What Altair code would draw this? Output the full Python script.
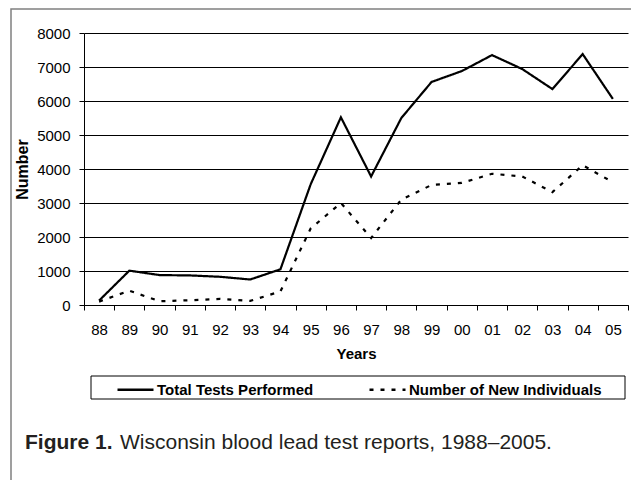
import altair as alt
import pandas as pd

years = ["88", "89", "90", "91", "92", "93", "94", "95", "96", "97",
         "98", "99", "00", "01", "02", "03", "04", "05"]
total_tests = [130, 1010, 880, 870, 830, 750, 1050, 3550, 5520, 3780,
               5500, 6560, 6880, 7350, 6940, 6350, 7380, 6060]
new_individuals = [100, 420, 110, 140, 180, 120, 400, 2250, 3000, 1970,
                   3100, 3530, 3590, 3860, 3780, 3320, 4110, 3610]
series_names = ["Total Tests Performed", "Number of New Individuals"]
y_ticks = [0, 1000, 2000, 3000, 4000, 5000, 6000, 7000, 8000]

rows = []
for i, yr in enumerate(years):
    rows.append({"year": yr, "series": series_names[0], "value": total_tests[i], "order": i})
    rows.append({"year": yr, "series": series_names[1], "value": new_individuals[i], "order": i})
df = pd.DataFrame(rows)

FONT = "Liberation Sans"

lines = alt.Chart(df).mark_line(color="black", strokeWidth=2.2).encode(
    x=alt.X("year:O", sort=years,
            scale=alt.Scale(type="band", paddingInner=0, paddingOuter=0),
            axis=alt.Axis(title="Years", labelAngle=0, tickBand="extent", grid=False,
                          domainColor="black", tickColor="black", tickSize=5,
                          labelFont=FONT, labelFontSize=15, labelColor="black",
                          labelPadding=12, titleFont=FONT, titleFontSize=15,
                          titleFontWeight="bold", titleColor="black", titlePadding=9)),
    y=alt.Y("value:Q", scale=alt.Scale(domain=[0, 8000], nice=False),
            axis=alt.Axis(title="Number", values=y_ticks, format="d", grid=True,
                          gridColor="black", gridWidth=1, gridOpacity=1,
                          domainColor="black", tickColor="black", tickSize=5,
                          labelFont=FONT, labelFontSize=15, labelColor="black",
                          labelPadding=9, titleFont=FONT, titleFontSize=16,
                          titleFontWeight="bold", titleColor="black", titlePadding=6)),
    strokeDash=alt.StrokeDash("series:N",
                              scale=alt.Scale(domain=series_names, range=[[1, 0], [4, 7]]),
                              legend=alt.Legend(title=None, orient="none", legendX=32, legendY=337,
                                                direction="horizontal", symbolType="stroke",
                                                symbolSize=1296, symbolStrokeWidth=2.5,
                                                symbolStrokeColor="black", labelFont=FONT,
                                                labelFontWeight="bold", labelFontSize=15,
                                                labelColor="black", labelOffset=2,
                                                labelLimit=400, columnPadding=50, padding=0)),
    order=alt.Order("order:Q"),
)

one = pd.DataFrame({"a": [0]})

legend_box = alt.Chart(one).mark_rect(fill="transparent", stroke="black", strokeWidth=1).encode(
    x=alt.value(7), x2=alt.value(541), y=alt.value(343), y2=alt.value(366))

frame = alt.Chart(one).mark_rect(fill="transparent", stroke="#808080", strokeWidth=1.5).encode(
    x=alt.value(-73), x2=alt.value(800), y=alt.value(-24), y2=alt.value(800))

cap_bold = alt.Chart(one).mark_text(text="Figure 1.", font=FONT, fontSize=21, fontWeight="bold",
                                    color="#231f20", align="left", baseline="middle").encode(
    x=alt.value(-59), y=alt.value(410))
cap_reg = alt.Chart(one).mark_text(text="Wisconsin blood lead test reports, 1988\u20132005.",
                                   font=FONT, fontSize=21, color="#231f20",
                                   align="left", baseline="middle").encode(
    x=alt.value(36), y=alt.value(410))

chart = alt.layer(frame, lines, legend_box, cap_bold, cap_reg).properties(
    width=544, height=272,
    autosize=alt.AutoSizeParams(type="none"),
    padding={"left": 76, "top": 25, "right": 3, "bottom": 175},
).configure_view(stroke=None)

chart.save("out.html", embed_options={"renderer": "svg", "actions": False})
